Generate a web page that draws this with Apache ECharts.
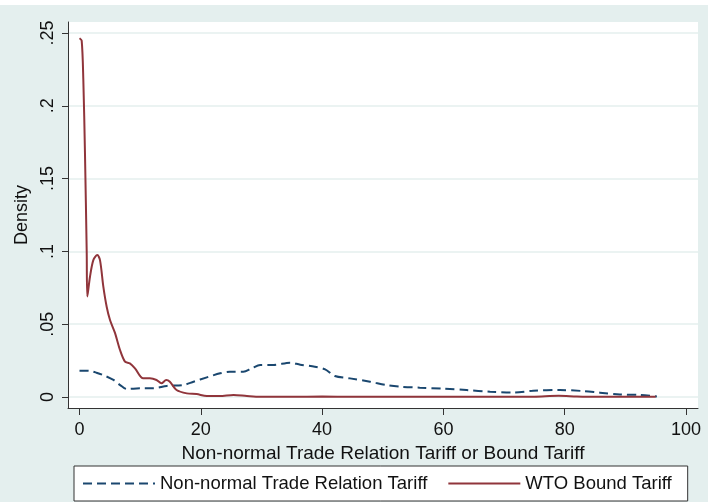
<!DOCTYPE html>
<html>
<head>
<meta charset="utf-8">
<script src="https://cdn.jsdelivr.net/npm/echarts@6/dist/echarts.min.js"></script>
<style>
html,body{margin:0;padding:0;background:#fff;}
#chart{width:708px;height:502px;}
</style>
</head>
<body>
<div id="chart"></div>
<script>
// Data
const nntrX = [0, 1.65, 2.8, 3.9, 5.6, 6.7, 7.8, 10, 12.2, 14.4, 17.1, 18.8, 21, 23.2, 24.8, 27, 28.4, 29.8, 32, 34.7, 36.4, 38.8, 40.5, 42.1, 44.6, 47.9, 50.65, 52.9, 56.1, 60, 63.8, 67.7, 71.5, 74.8, 79.2, 83, 85.8, 89.1, 92.4, 95.2];
const nntrY = [0.0181, 0.0179, 0.0167, 0.0151, 0.0117, 0.0082, 0.0055, 0.006, 0.006, 0.0076, 0.0082, 0.0105, 0.0135, 0.0163, 0.0174, 0.0174, 0.0197, 0.022, 0.022, 0.0236, 0.0222, 0.0208, 0.019, 0.0144, 0.0128, 0.0105, 0.0082, 0.0071, 0.0064, 0.0057, 0.0048, 0.0036, 0.003, 0.0043, 0.0048, 0.0041, 0.003, 0.0018, 0.0014, 0.0004];
const wtoX = [0, 0.36, 0.63, 0.9, 1.19, 1.29, 1.73, 2.28, 2.94, 3.38, 3.93, 4.48, 5.03, 5.85, 6.68, 7.5, 8.3, 9.15, 10.5, 11.6, 12.7, 13.5, 14.3, 14.9, 16, 17.7, 19.3, 21, 23.1, 25.4, 27.6, 29.8, 35, 40, 45, 50, 55, 60, 65, 70, 75, 79, 82, 85, 90, 95];
const wtoY = [0.2464, 0.2447, 0.218, 0.168, 0.099, 0.069, 0.0826, 0.094, 0.0975, 0.094, 0.0758, 0.062, 0.0529, 0.044, 0.0323, 0.0243, 0.0231, 0.0197, 0.0128, 0.0128, 0.0117, 0.0094, 0.0117, 0.0105, 0.0048, 0.0025, 0.002, 0.0007, 0.0007, 0.0014, 0.0007, 0.0002, 0.0002, 0.0003, 0.0002, 0.0002, 0.0001, 0.0002, 0.0001, 0.0001, 0.0002, 0.0008, 0.0004, 0.0002, 0.0002, 0.0001];
const xTicks = [0, 20, 40, 60, 80, 100];
const xTickLabels = ['0', '20', '40', '60', '80', '100'];
const yTicks = [0, 0.05, 0.1, 0.15, 0.2, 0.25];
const yTickLabels = ['0', '.05', '.1', '.15', '.2', '.25'];
const seriesNames = ['Non-normal Trade Relation Tariff', 'WTO Bound Tariff'];
const xTitle = 'Non-normal Trade Relation Tariff or Bound Tariff';
const yTitle = 'Density';

const FONT = '"Liberation Sans", Arial, sans-serif';
const BG = '#e4efee';
const pair = (xs, ys) => xs.map((x, i) => [x, ys[i]]);

const chart = echarts.init(document.getElementById('chart'), null, {renderer: 'canvas'});
chart.setOption({
  backgroundColor: '#ffffff',
  animation: false,
  graphic: [{
    type: 'rect', z: -10, silent: true,
    shape: {x: 0, y: 5, width: 708, height: 497},
    style: {fill: BG}
  }],
  grid: {
    left: 68, right: 10, top: 22, bottom: 94,
    show: true, backgroundColor: '#ffffff', borderWidth: 0
  },
  xAxis: {
    type: 'value',
    min: -1.896, max: 101.98,
    name: xTitle, nameLocation: 'middle', nameGap: 31,
    nameTextStyle: {fontFamily: FONT, fontSize: 19, color: '#111'},
    axisLine: {show: true, onZero: false, lineStyle: {color: '#333', width: 1}},
    axisTick: {show: true, length: 7, customValues: xTicks, lineStyle: {color: '#333'}},
    axisLabel: {
      customValues: xTicks, margin: 13, fontFamily: FONT, fontSize: 18, color: '#111',
      formatter: v => xTickLabels[xTicks.indexOf(v)] ?? ''
    },
    splitLine: {show: false}
  },
  yAxis: {
    type: 'value',
    min: -0.00755, max: 0.25755,
    name: yTitle, nameLocation: 'middle', nameGap: 36, nameRotate: 90,
    nameTextStyle: {fontFamily: FONT, fontSize: 18, color: '#111'},
    axisLine: {show: true, onZero: false, lineStyle: {color: '#333', width: 1}},
    axisTick: {show: true, length: 6, customValues: yTicks, lineStyle: {color: '#333'}},
    axisLabel: {
      customValues: yTicks, rotate: 90, margin: 11, fontFamily: FONT, fontSize: 18, color: '#111',
      formatter: v => yTickLabels[yTicks.findIndex(t => Math.abs(t - v) < 1e-9)] ?? ''
    },
    splitLine: {show: false}
  },
  legend: {
    left: 74, top: 466,
    backgroundColor: '#ffffff', borderColor: '#333', borderWidth: 1,
    padding: [8, 16, 8, 8],
    itemWidth: 72, itemHeight: 14, itemGap: 20,
    itemStyle: {opacity: 0},
    textStyle: {fontFamily: FONT, fontSize: 18.5, color: '#111'},
    data: seriesNames
  },
  series: [
    {
      name: seriesNames[0], type: 'line', data: pair(nntrX, nntrY),
      showSymbol: false, symbol: 'none', smooth: 0.3,
      lineStyle: {color: '#1a476f', width: 2, type: [9, 5]},
      itemStyle: {color: '#1a476f'},
      markLine: {
        silent: true, symbol: 'none', label: {show: false}, z: 0,
        lineStyle: {color: BG, width: 1.5, type: 'solid'},
        data: yTicks.map(t => ({yAxis: t}))
      }
    },
    {
      name: seriesNames[1], type: 'line', data: pair(wtoX, wtoY),
      showSymbol: false, symbol: 'none', smooth: 0.3,
      lineStyle: {color: '#90353b', width: 2},
      itemStyle: {color: '#90353b'}
    }
  ]
});
</script>
</body>
</html>
